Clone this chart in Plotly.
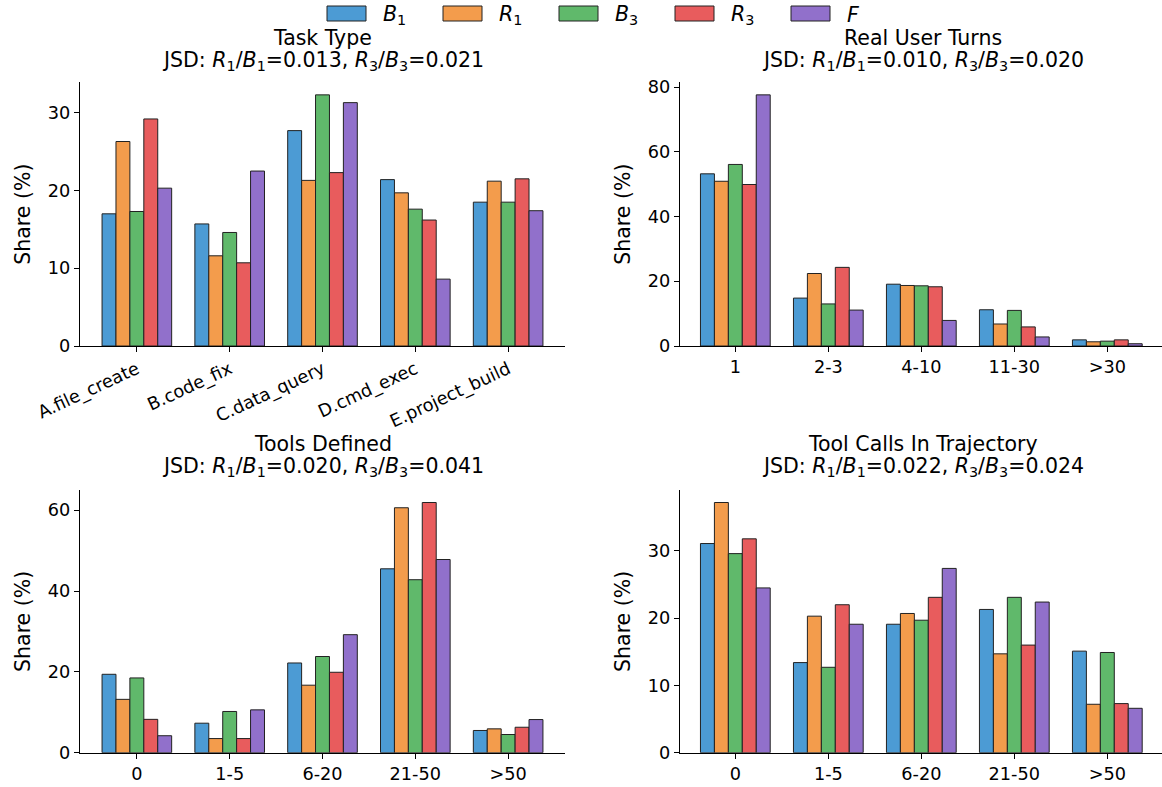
import plotly.graph_objects as go

# ---------------- data ----------------
series_names = ["B1", "R1", "B3", "R3", "F"]
series_labels = ["<i>B</i><sub>1</sub>", "<i>R</i><sub>1</sub>", "<i>B</i><sub>3</sub>",
                 "<i>R</i><sub>3</sub>", "<i>F</i>"]
series_colors = ["#4C9BD4", "#F39C4C", "#60B96B", "#E85C5D", "#9170CB"]

task_cats = ["A.file_create", "B.code_fix", "C.data_query", "D.cmd_exec", "E.project_build"]
task_B1 = [17.0, 15.7, 27.7, 21.4, 18.5]
task_R1 = [26.3, 11.6, 21.3, 19.7, 21.2]
task_B3 = [17.3, 14.6, 32.3, 17.6, 18.5]
task_R3 = [29.2, 10.7, 22.3, 16.2, 21.5]
task_F = [20.3, 22.5, 31.3, 8.6, 17.4]

turn_cats = ["1", "2-3", "4-10", "11-30", ">30"]
turns_B1 = [53.2, 14.8, 19.1, 11.2, 1.9]
turns_R1 = [50.9, 22.4, 18.7, 6.8, 1.3]
turns_B3 = [56.1, 13.0, 18.6, 11.0, 1.5]
turns_R3 = [49.9, 24.3, 18.3, 5.9, 1.9]
turns_F = [77.6, 11.1, 7.9, 2.8, 0.7]

tools_cats = ["0", "1-5", "6-20", "21-50", ">50"]
tools_B1 = [19.4, 7.3, 22.2, 45.5, 5.5]
tools_R1 = [13.2, 3.5, 16.7, 60.6, 5.9]
tools_B3 = [18.5, 10.2, 23.8, 42.8, 4.5]
tools_R3 = [8.25, 3.5, 19.9, 61.9, 6.3]
tools_F = [4.2, 10.6, 29.2, 47.8, 8.2]

calls_cats = ["0", "1-5", "6-20", "21-50", ">50"]
calls_B1 = [31.1, 13.4, 19.1, 21.3, 15.1]
calls_R1 = [37.2, 20.3, 20.7, 14.7, 7.2]
calls_B3 = [29.6, 12.7, 19.7, 23.1, 14.9]
calls_R3 = [31.8, 22.0, 23.1, 16.0, 7.3]
calls_F = [24.5, 19.1, 27.4, 22.4, 6.6]

panel_titles = ["Task Type", "Real User Turns", "Tools Defined", "Tool Calls In Trajectory"]
jsd_r1b1 = ["0.013", "0.010", "0.020", "0.022"]
jsd_r3b3 = ["0.021", "0.020", "0.041", "0.024"]

panels = [
    (task_cats, [task_B1, task_R1, task_B3, task_R3, task_F]),
    (turn_cats, [turns_B1, turns_R1, turns_B3, turns_R3, turns_F]),
    (tools_cats, [tools_B1, tools_R1, tools_B3, tools_R3, tools_F]),
    (calls_cats, [calls_B1, calls_R1, calls_B3, calls_R3, calls_F]),
]

# ---------------- layout geometry ----------------
W, H = 1162, 787
FONT = "DejaVu Sans"
FS_TICK = 17.7
FS_TEXT = 20.5
EDGE = "#222222"

def px_x(p):
    return p / W

def px_y(p):
    return 1 - p / H

x_domains = [[px_x(80), px_x(565)], [px_x(680), 1.0],
             [px_x(80), px_x(565)], [px_x(680), 1.0]]
x_ranges = [[-0.6125, 4.6125], [-0.595, 4.588], [-0.6125, 4.6125], [-0.595, 4.588]]
y_domains = [[px_y(346), px_y(82.3)], [px_y(346), px_y(82.3)],
             [px_y(752.7), px_y(490)], [px_y(752.7), px_y(490)]]
y_dticks = [10, 20, 20, 10]
title_y = [(38, 61), (38, 61), (444, 467), (444, 467)]
title_x = [322.5, 922.5, 322.5, 922.5]

fig = go.Figure()

for i, (cats, vals) in enumerate(panels):
    ax = "" if i == 0 else str(i + 1)
    xpos = list(range(len(cats)))
    for j, v in enumerate(vals):
        fig.add_trace(go.Bar(
            x=xpos, y=v, name=series_labels[j],
            marker=dict(color=series_colors[j], line=dict(color=EDGE, width=1)),
            xaxis="x" + ax, yaxis="y" + ax,
            showlegend=False, legendgroup=series_names[j],
        ))
    ymax = max(max(v) for v in vals) * 1.05
    axis_common = dict(
        showline=True, linecolor="black", linewidth=1.3,
        ticks="outside", ticklen=5, tickwidth=1.3, tickcolor="black",
        showgrid=False, zeroline=False, automargin=False,
        tickfont=dict(family=FONT, size=FS_TICK, color="black"),
    )
    fig.update_layout(**{
        "xaxis" + ax: dict(
            domain=x_domains[i], range=x_ranges[i], anchor="y" + ax,
            tickmode="array", tickvals=xpos, ticktext=cats,
            tickangle=-25 if i == 0 else 0,
            **axis_common,
        ),
        "yaxis" + ax: dict(
            domain=y_domains[i], range=[0, ymax], anchor="x" + ax,
            dtick=y_dticks[i], tick0=0,
            title=dict(text="Share (%)", font=dict(family=FONT, size=FS_TEXT, color="black"),
                       standoff=11),
            **axis_common,
        ),
    })
    xc = px_x(title_x[i])
    fig.add_annotation(
        x=xc, y=px_y(title_y[i][0]), xref="paper", yref="paper",
        xanchor="center", yanchor="middle", showarrow=False,
        text=panel_titles[i],
        font=dict(family=FONT, size=FS_TEXT, color="black"),
    )
    fig.add_annotation(
        x=xc, y=px_y(title_y[i][1]), xref="paper", yref="paper",
        xanchor="center", yanchor="middle", showarrow=False,
        text=(f"JSD: <i>R</i><sub>1</sub>/<i>B</i><sub>1</sub>={jsd_r1b1[i]}, "
              f"<i>R</i><sub>3</sub>/<i>B</i><sub>3</sub>={jsd_r3b3[i]}"),
        font=dict(family=FONT, size=FS_TEXT, color="black"),
    )

# ---------------- figure-level legend (matplotlib style wide patches) ----------------
LEG_X0, LEG_STEP, PATCH_W, PATCH_TOP, PATCH_BOT, LABEL_DX = 327, 116, 39, 6, 21, 54
for j, (lab, col) in enumerate(zip(series_labels, series_colors)):
    x0 = LEG_X0 + j * LEG_STEP
    fig.add_shape(
        type="rect", xref="paper", yref="paper",
        x0=px_x(x0), x1=px_x(x0 + PATCH_W), y0=px_y(PATCH_BOT), y1=px_y(PATCH_TOP),
        fillcolor=col, line=dict(color=EDGE, width=1), layer="above",
    )
    fig.add_annotation(
        x=px_x(x0 + LABEL_DX), y=px_y((PATCH_TOP + PATCH_BOT) / 2 + 1.5),
        xref="paper", yref="paper", xanchor="left", yanchor="middle",
        showarrow=False, text=lab,
        font=dict(family=FONT, size=FS_TEXT, color="black"),
    )

fig.update_layout(
    width=W, height=H,
    margin=dict(l=0, r=0, t=0, b=0, autoexpand=False),
    paper_bgcolor="white", plot_bgcolor="white",
    barmode="group", bargap=0.25, bargroupgap=0,
    font=dict(family=FONT, size=FS_TEXT, color="black"),
    showlegend=False,
)

fig.write_html("out.html", config={"displayModeBar": False},
               post_script="document.body.style.margin='0px';")
